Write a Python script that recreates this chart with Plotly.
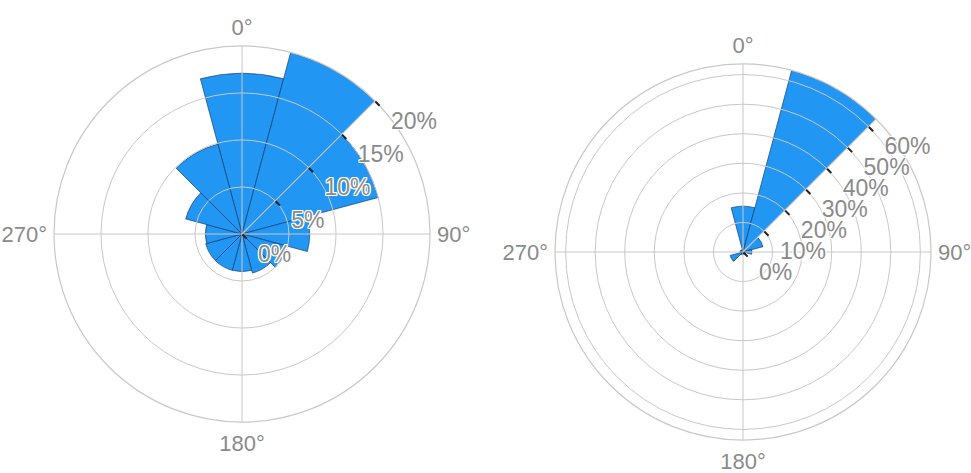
import plotly.graph_objects as go

# ---- data ----
directions = [0, 30, 60, 90, 120, 150, 180, 210, 240, 270, 300, 330]
sector_width = [30] * 12
left_values = [17.1, 20.0, 15.0, 7.2, 5.0, 4.3, 4.0, 4.0, 4.0, 3.9, 6.2, 9.9]
right_values = [15.5, 63.6, 7.0, 3.0, 1.0, 0.8, 0.8, 1.0, 4.5, 1.0, 1.0, 0.8]
angular_ticks = [0, 90, 180, 270]
left_radial_ticks = [0, 5, 10, 15, 20]
right_radial_ticks = [0, 10, 20, 30, 40, 50, 60]

BAR = "#2196f3"
EDGE = "rgba(20,60,110,0.85)"
GRID = "#c8c8c8"
TXT = "#8a8a8a"
FONT = "Liberation Sans"
halo = ("1px 1px 0 #fff, -1px -1px 0 #fff, 1px -1px 0 #fff, -1px 1px 0 #fff, "
        "0 1px 0 #fff, 0 -1px 0 #fff, 1px 0 0 #fff, -1px 0 0 #fff")

W, H = 971, 473
def dom(x0, x1, y0, y1):
    return dict(x=[x0 / W, x1 / W], y=[1 - y1 / H, 1 - y0 / H])

left_dom = dom(54, 430, 46, 422)
right_dom = dom(555, 931, 64, 440)

fig = go.Figure()
# bars (bottom subplots)
fig.add_trace(go.Barpolar(r=left_values, theta=directions, width=sector_width,
                          marker=dict(color=BAR, line=dict(color=EDGE, width=0.8)),
                          subplot="polar", showlegend=False))
fig.add_trace(go.Barpolar(r=right_values, theta=directions, width=sector_width,
                          marker=dict(color=BAR, line=dict(color=EDGE, width=0.8)),
                          subplot="polar3", showlegend=False))
# grid overlays (top subplots)
fig.add_trace(go.Scatterpolar(r=left_values, theta=directions, mode="markers",
                              marker=dict(opacity=0), hoverinfo="skip",
                              subplot="polar2", showlegend=False))
fig.add_trace(go.Scatterpolar(r=right_values, theta=directions, mode="markers",
                              marker=dict(opacity=0), hoverinfo="skip",
                              subplot="polar4", showlegend=False))

def hidden_polar(domain, rmax):
    return dict(
        domain=domain, bgcolor="white",
        radialaxis=dict(range=[0, rmax], showgrid=False, showline=False,
                        showticklabels=False, ticks=""),
        angularaxis=dict(rotation=90, direction="clockwise", showgrid=False,
                         showline=False, showticklabels=False, ticks=""),
    )

def grid_polar(domain, rmax, rticks):
    return dict(
        domain=domain, bgcolor="rgba(0,0,0,0)",
        radialaxis=dict(range=[0, rmax], angle=45, tickangle=45, side="clockwise",
                        tickvals=rticks, ticktext=[f"{v}%" for v in rticks],
                        showgrid=True, gridcolor=GRID, gridwidth=1.2,
                        showline=True, linecolor=GRID, linewidth=1.2,
                        ticks="outside", ticklen=6, tickwidth=1.5, tickcolor="#222",
                        tickfont=dict(family=FONT, size=23, color=TXT, shadow=halo)),
        angularaxis=dict(rotation=90, direction="clockwise",
                         tickvals=angular_ticks, ticktext=[f"{a}°" for a in angular_ticks],
                         showgrid=True, gridcolor=GRID, gridwidth=1.2,
                         showline=True, linecolor=GRID, linewidth=1.2,
                         ticks="outside", ticklen=2, tickcolor="rgba(0,0,0,0)",
                         tickfont=dict(family=FONT, size=22, color=TXT)),
    )

fig.update_layout(
    width=W, height=H, margin=dict(l=0, r=0, t=0, b=0),
    paper_bgcolor="white", font=dict(family=FONT),
    polar=hidden_polar(left_dom, max(left_values)),
    polar2=grid_polar(left_dom, max(left_values), left_radial_ticks),
    polar3=hidden_polar(right_dom, max(right_values)),
    polar4=grid_polar(right_dom, max(right_values), right_radial_ticks),
)

fig.write_html("out.html", config={"displayModeBar": False},
               post_script="document.body.style.margin='0';document.body.style.overflow='hidden';")
